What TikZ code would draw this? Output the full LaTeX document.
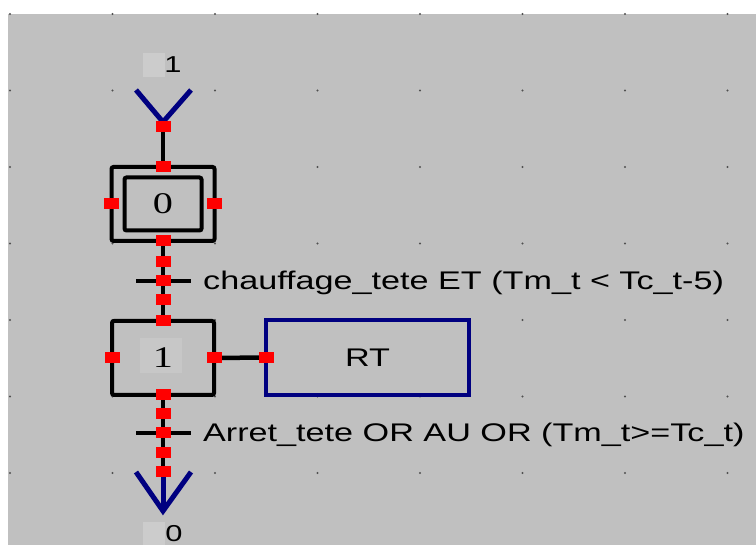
\documentclass[tikz,border=0pt]{standalone}
\usepackage{fontspec}
\newfontfamily\labfont[FakeStretch=1.34]{Liberation Sans}
\newfontfamily\numfont[FakeStretch=1.34]{Liberation Serif}
\definecolor{grafgrey}{RGB}{192,192,192}
\definecolor{graflight}{RGB}{204,204,204}
\definecolor{graffaint}{RGB}{199,199,199}
\definecolor{grafdot}{RGB}{80,80,80}
\definecolor{grafnavy}{RGB}{0,0,128}
\definecolor{grafred}{RGB}{255,0,0}
\newcommand{\labsize}{\labfont\fontsize{25.5}{30}\selectfont}
\newcommand{\numsize}{\numfont\fontsize{30}{34}\selectfont}
\newcommand{\tagsize}{\labfont\fontsize{23}{28}\selectfont}
\tikzset{
  stepbox/.style={draw,line width=4pt,rounded corners=2pt,inner sep=0pt,outer sep=0pt,
    minimum width=102pt,minimum height=74pt},
  actbox/.style={draw=grafnavy,line width=4.5pt,inner sep=0pt,outer sep=0pt,
    minimum width=203pt,minimum height=75pt,font=\labsize},
  port/.style={fill=grafred,inner sep=0pt,minimum width=15pt,minimum height=11pt},
  link/.style={line width=4.5pt},
  trbar/.style={line width=4pt},
  vtip/.style={draw=grafnavy,line width=5pt},
  trlab/.style={anchor=base west,inner sep=0pt,font=\labsize},
  tag/.style={anchor=base,inner sep=0pt,font=\tagsize},
}

\begin{document}
\begin{tikzpicture}[x=1pt,y=-1pt]
  \useasboundingbox(0,0)rectangle(756,545);
  \fill[grafgrey](8,14)rectangle(756,545);
  \foreach \gx in {0,...,7}{%
    \foreach \gy in {0,...,6}{%
      \fill[grafdot](10+102.5*\gx,14+76.5*\gy)circle(1.2);
    }
  }
  % light patches behind the numbers
  \fill[graflight](143,53)rectangle(165,77);
  \fill[graflight](143,522)rectangle(165,545);
  \fill[graffaint](140,338)rectangle(182,373);
  % steps and action
  \node[stepbox,minimum width=103pt] (s0) at (163,204) {};
  \node[stepbox,minimum width=77pt,minimum height=53pt,font=\numsize] (s0in) at (s0) {0};
  \node[stepbox,font=\numsize] (s1) at (163,358) {1};
  \node[actbox] (a1) at (367.5,357.5) {RT};
  \coordinate (t1) at (163,281);
  \coordinate (t2) at (163,433);
  \coordinate (vin) at (163,122);
  \coordinate (vinl) at (136,90);
  \coordinate (vinr) at (191,90);
  \coordinate (lend) at (163,472);
  \coordinate (vout) at (163,511);
  \coordinate (voutl) at (136,472);
  \coordinate (voutr) at (191,472);
  % links
  \draw[link](vin)--(s0.north);
  \draw[link](s0.south)--(s1.north);
  \draw[link](s1.south)--(lend);
  \draw[link](s1.east)--(a1.west);
  % transitions
  \draw[trbar]([xshift=-27pt]t1)--([xshift=28pt]t1);
  \draw[trbar]([xshift=-27pt]t2)--([xshift=28pt]t2);
  \node[trlab] (c1) at (203,290) {chauffage\_tete ET (Tm\_t < Tc\_t-5)};
  \node[trlab] (c2) at (203,442) {Arret\_tete OR AU OR (Tm\_t>=Tc\_t)};
  % entry and exit
  \draw[vtip](vinl)--(vin)--(vinr);
  \draw[vtip](lend)--(vout);
  \draw[vtip](voutl)--(vout)--(voutr);
  \node[tag] (lin) at (173,73) {1};
  \node[tag] (lout) at (174,541) {0};
  % ports
  \node[port] (pin) at (163,127) {};
  \foreach \a in {north,south,east,west}{%
    \node[port] (s0-\a) at (s0.\a) {};
    \node[port] (s1-\a) at (s1.\a) {};
  }
  \node[port] (a1-west) at (a1.west) {};
  \foreach \y in {262,281,300,414,433,453,472}{%
    \node[port] (p\y) at (163,\y) {};
  }
\end{tikzpicture}
\end{document}
